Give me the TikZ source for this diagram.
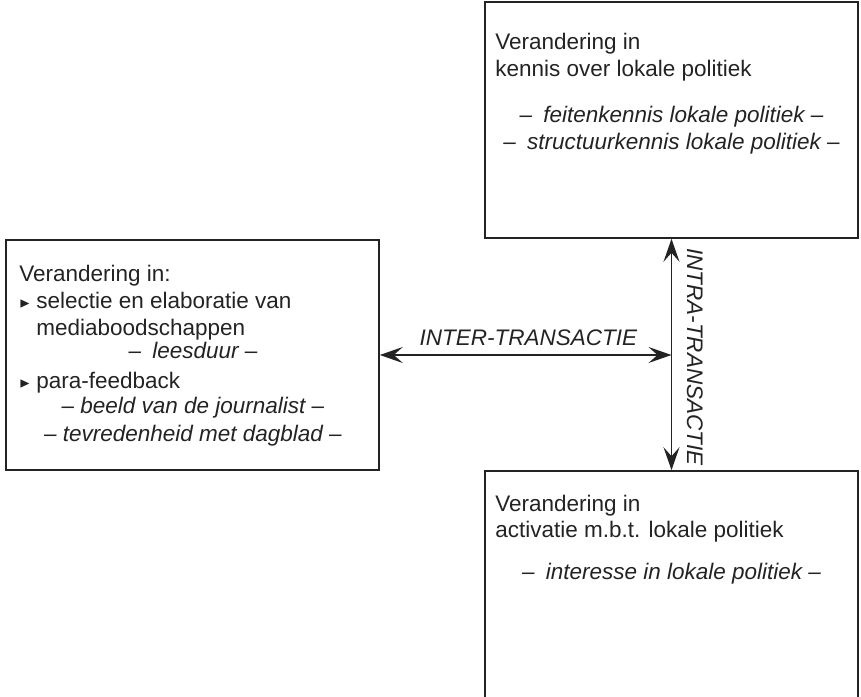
\documentclass[tikz,border=0pt]{standalone}
\usepackage{fontspec}
\setmainfont{Liberation Sans}
\usepackage{amssymb}
\usetikzlibrary{positioning}
\usetikzlibrary{arrows.meta}
\definecolor{inkt}{RGB}{35,35,35}
\tikzstyle{kader} = [draw=inkt, line width=0.9pt, rectangle, minimum width=7.46cm, inner sep=0pt]
\tikzstyle{regel} = [inner sep=0pt, text=inkt, font=\fontsize{12.8}{14.8}\selectfont]
\tikzstyle{verbinding} = [>={Stealth[length=4.6mm, width=3.2mm, inset=1.8mm]}, draw=inkt, line width=0.9pt]
\newcommand{\pijl}{\raisebox{0.1ex}{\footnotesize$\blacktriangleright$}}

\begin{document}
\begin{tikzpicture}
        \useasboundingbox (0,0) rectangle (17.22,13.94);

        \node[kader, minimum height=4.60cm] (links) at (3.85,6.84) {};
        \node[kader, minimum height=4.72cm] (boven) at (13.43,11.54) {};
        \node[kader, minimum height=4.72cm] (onder) at (13.43,2.16) {};

        \node[regel, anchor=base west] (links1) at (0.38,8.30) {Verandering in:};
        \node[regel, anchor=base west] (links2) at (0.38,7.76) {\makebox[0.34cm][l]{\pijl}selectie en elaboratie van};
        \node[regel, anchor=base west] (links3) at (0.72,7.22) {mediaboodschappen};
        \node[regel, anchor=base] (links4) at (3.86,6.76) {\textit{--\enspace leesduur --}};
        \node[regel, anchor=base west] (links5) at (0.38,6.16) {\makebox[0.34cm][l]{\pijl}para-feedback};
        \node[regel, anchor=base] (links6) at (3.86,5.66) {\textit{-- beeld van de journalist --}};
        \node[regel, anchor=base] (links7) at (3.86,5.10) {\textit{-- tevredenheid met dagblad --}};

        \node[regel, anchor=base west] (boven1) at (9.90,12.94) {Verandering in};
        \node[regel, anchor=base west] (boven2) at (9.90,12.40) {kennis over lokale politiek};
        \node[regel, anchor=base] (boven3) at (13.43,11.48) {\textit{--\enspace feitenkennis lokale politiek --}};
        \node[regel, anchor=base] (boven4) at (13.43,10.94) {\textit{--\enspace structuurkennis lokale politiek --}};

        \node[regel, anchor=base west] (onder1) at (9.90,3.70) {Verandering in};
        \node[regel, anchor=base west] (onder2) at (9.90,3.18) {activatie m.b.t. lokale politiek};
        \node[regel, anchor=base] (onder3) at (13.43,2.34) {\textit{--\enspace interesse in lokale politiek --}};

        \coordinate (kruis) at (links.east -| boven.south);
        \draw[verbinding, <->] (boven.south) -- (onder.north);
        \draw[verbinding, <->] (links.east) -- (kruis);
        \node[regel, anchor=base] (inter) at (10.57,7.02) {\textit{INTER-TRANSACTIE}};
        \node[regel, anchor=base, rotate=-90] (intra) at (13.74,6.80) {\textit{INTRA-TRANSACTIE}};
    \end{tikzpicture}
\end{document}
